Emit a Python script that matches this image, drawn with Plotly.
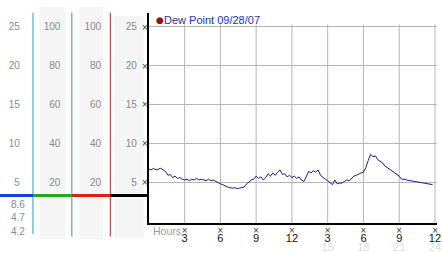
import plotly.graph_objects as go

# ---------------- data ----------------
hours = [0.0, 0.2, 0.4, 0.6, 0.8, 1.0, 1.2, 1.4, 1.6, 1.8, 2.0, 2.2, 2.4, 2.6, 2.8,
         3.0, 3.2, 3.4, 3.6, 3.8, 4.0, 4.2, 4.4, 4.6, 4.8, 5.0, 5.2, 5.4, 5.6, 5.8,
         6.0, 6.2, 6.4, 6.6, 6.8, 7.0, 7.2, 7.4, 7.6, 7.8, 8.0, 8.2, 8.4, 8.6, 8.8,
         9.0, 9.2, 9.4, 9.6, 9.8, 10.0, 10.2, 10.4, 10.6, 10.8, 11.0, 11.2, 11.4, 11.6, 11.8,
         12.0, 12.2, 12.4, 12.6, 12.8, 13.0, 13.2, 13.4, 13.6, 13.8, 14.0, 14.2, 14.4, 14.6, 14.8,
         15.0, 15.2, 15.4, 15.6, 15.8, 16.0, 16.2, 16.4, 16.6, 16.8, 17.0, 17.2, 17.4, 17.6, 17.8,
         18.0, 18.2, 18.4, 18.6, 18.8, 19.0, 19.2, 19.4, 19.6, 19.8, 20.0, 20.2, 20.4, 20.6, 20.8,
         21.0, 21.2, 21.4, 21.6, 21.8, 22.0, 22.2, 22.4, 22.6, 22.8, 23.0, 23.2, 23.4, 23.6, 23.8]
dew_point = [6.7, 6.6, 6.8, 6.6, 6.7, 6.8, 6.6, 6.4, 5.9, 6.0, 5.6, 5.8, 5.5, 5.6, 5.4,
             5.3, 5.4, 5.2, 5.4, 5.3, 5.5, 5.3, 5.4, 5.3, 5.2, 5.4, 5.2, 5.3, 5.1, 5.0,
             4.8, 4.7, 4.5, 4.4, 4.3, 4.25, 4.3, 4.2, 4.25, 4.3, 4.4, 4.8, 5.1, 5.3, 5.4,
             5.8, 5.5, 5.7, 5.3, 5.6, 6.1, 5.8, 6.2, 5.9, 6.3, 6.6, 6.0, 6.1, 5.7, 5.9,
             5.6, 5.8, 5.5, 5.7, 5.3, 5.1, 5.7, 6.4, 6.2, 6.5, 6.3, 6.6, 5.9, 5.6, 5.4,
             5.2, 4.9, 4.7, 5.3, 4.8, 4.9, 4.9, 5.1, 5.3, 5.2, 5.5, 5.8, 5.9, 6.1, 6.2,
             6.3, 6.9, 7.8, 8.6, 8.3, 8.4, 7.9, 7.7, 7.5, 7.1, 6.9, 6.6, 6.4, 6.3, 6.0,
             5.8, 5.4, 5.4, 5.3, 5.25, 5.2, 5.1, 5.1, 5.0, 4.95, 4.9, 4.85, 4.8, 4.75, 4.7]

series_name = "Dew Point 09/28/07"
hour_ticks = [3, 6, 9, 12, 15, 18, 21, 24]
hour_labels = ["3", "6", "9", "12", "3", "6", "9", "12"]
pm_ticks = [15, 18, 21, 24]
pm_labels = ["15", "18", "21", "24"]
temp_ticks = [5, 10, 15, 20, 25]
pct_ticks = [20, 40, 60, 80, 100]
TICK_GLYPH = "×"

# ---------------- geometry helpers ----------------
W, H = 442, 253
def fx(p):
    return p / W
def fy(p):
    return 1 - p / H

PX_PER_UNIT = 7.95
Y_ZERO_PX = 226.0
y_bot_px, y_top_px = 224.0, 12.7
y_range = [-(Y_ZERO_PX - y_bot_px) / PX_PER_UNIT, (Y_ZERO_PX - y_top_px) / PX_PER_UNIT]
x_range = [0, 24.17]

GRID = "#b5b5b5"
LABEL_GRAY = "#8a8a8a"
FONT = "Liberation Sans, Arial, sans-serif"
GLYPH_FONT = dict(size=8, color="#333333", family="DejaVu Sans")

fig = go.Figure()
fig.add_trace(go.Scatter(x=hours, y=dew_point, mode="lines",
                         line=dict(color="#1b1b8a", width=1), showlegend=False,
                         hoverinfo="skip"))
# carrier traces so that auxiliary axes render
for xa, ya in [("x", "y2"), ("x", "y3"), ("x", "y4"), ("x", "y5"), ("x2", "y"), ("x3", "y")]:
    fig.add_trace(go.Scatter(x=[None], y=[None], xaxis=xa, yaxis=ya, showlegend=False,
                             hoverinfo="skip"))

layout = dict(
    width=W, height=H, margin=dict(l=0, r=0, t=0, b=0),
    paper_bgcolor="white", plot_bgcolor="white",
    font=dict(family=FONT, size=10, color=LABEL_GRAY),
    xaxis=dict(domain=[fx(150.2), fx(441)], range=x_range, tickvals=hour_ticks,
               ticktext=[TICK_GLYPH] * len(hour_ticks), tickfont=GLYPH_FONT,
               showgrid=False, zeroline=False, showline=True, linecolor="black",
               linewidth=2, ticks="", ticklabelstandoff=-2, ticklabeloverflow="allow"),
    xaxis2=dict(overlaying="x", anchor="y", side="bottom", range=x_range,
                tickvals=hour_ticks, ticktext=hour_labels,
                tickfont=dict(size=11, color="#111"), showgrid=False, zeroline=False,
                showline=False, ticks="", ticklabelstandoff=7, ticklabeloverflow="allow"),
    xaxis3=dict(overlaying="x", anchor="y", side="bottom", range=x_range,
                tickvals=pm_ticks, ticktext=pm_labels,
                tickfont=dict(size=11, color="#dcdcdc"), showgrid=False, zeroline=False,
                showline=False, ticks="", ticklabelstandoff=16, ticklabeloverflow="allow"),
    yaxis=dict(domain=[fy(y_bot_px), fy(y_top_px)], range=y_range, tickvals=temp_ticks,
               ticktext=[TICK_GLYPH] * len(temp_ticks), tickfont=GLYPH_FONT,
               showgrid=True, gridcolor=GRID, gridwidth=1, zeroline=False,
               showline=True, linecolor="black", linewidth=2, ticks="",
               ticklabelstandoff=-3),
)

def free_axis(pos_px, scale, ticks):
    return dict(overlaying="y", anchor="free", side="left", position=fx(pos_px),
                range=[r * scale for r in y_range], tickvals=ticks,
                tickfont=dict(size=10, color=LABEL_GRAY),
                showgrid=False, zeroline=False, showline=False, ticks="")

layout["yaxis2"] = free_axis(20, 1, temp_ticks)
layout["yaxis3"] = free_axis(61, 4, pct_ticks)
layout["yaxis4"] = free_axis(102, 4, pct_ticks)
layout["yaxis5"] = free_axis(138, 1, temp_ticks)
fig.update_layout(**layout)

# vertical gridlines (stop just above the top gridline)
for h in hour_ticks:
    fig.add_shape(type="line", xref="x", yref="y", x0=h, x1=h, y0=y_range[0], y1=25.3,
                  line=dict(color=GRID, width=1), layer="below")

# left panel backgrounds
for x0, x1, y0, y1 in [(40, 66, 7, 240), (80, 104, 7, 240), (115, 145, 16, 239)]:
    fig.add_shape(type="rect", xref="paper", yref="paper", x0=fx(x0), x1=fx(x1),
                  y0=fy(y1), y1=fy(y0), fillcolor="#f5f5f5", line=dict(width=0),
                  layer="below")

# coloured vertical scale lines
for xp, col, yb in [(33.3, "#2a9fd0", 235), (72.5, "#33a833", 237.5), (111.3, "#aa2a2a", 237.5)]:
    fig.add_shape(type="line", xref="paper", yref="paper", x0=fx(xp), x1=fx(xp),
                  y0=fy(yb), y1=fy(12.7), line=dict(color=col, width=1))

# thick horizontal baseline segments
for x0, x1, col in [(0, 33.3, "#1e3fc8"), (33.3, 72.5, "#22aa22"),
                    (72.5, 111.3, "#dd1f1f"), (111.3, 149, "#000000")]:
    fig.add_shape(type="line", xref="paper", yref="paper", x0=fx(x0), x1=fx(x1),
                  y0=fy(196.4), y1=fy(196.4), line=dict(color=col, width=3))

# max / last / min readouts
stats = [max(dew_point), dew_point[-1], min(dew_point)]
for val, yp in zip(stats, [205.5, 218.5, 232]):
    fig.add_annotation(xref="paper", yref="paper", x=fx(27.5), y=fy(yp), text=f"{val:.1f}",
                       showarrow=False, xanchor="right", yanchor="middle",
                       font=dict(size=10, color=LABEL_GRAY, family=FONT))

# Hours label
fig.add_annotation(xref="paper", yref="paper", x=fx(152.5), y=fy(232), text="Hours",
                   showarrow=False, xanchor="left", yanchor="middle",
                   font=dict(size=10.5, color="#999999", family=FONT))

# legend marker and title
fig.add_annotation(xref="paper", yref="paper", x=fx(161.2), y=fy(20.3), text="●",
                   showarrow=False, xanchor="center", yanchor="middle",
                   font=dict(size=9, color="#8b1515", family="DejaVu Sans"))
fig.add_annotation(xref="paper", yref="paper", x=fx(163.5), y=fy(20.5),
                   text=series_name,
                   showarrow=False, xanchor="left", yanchor="middle",
                   font=dict(size=11, color="#2233a8", family=FONT))

fig.write_html("out.html", config={"displayModeBar": False})
